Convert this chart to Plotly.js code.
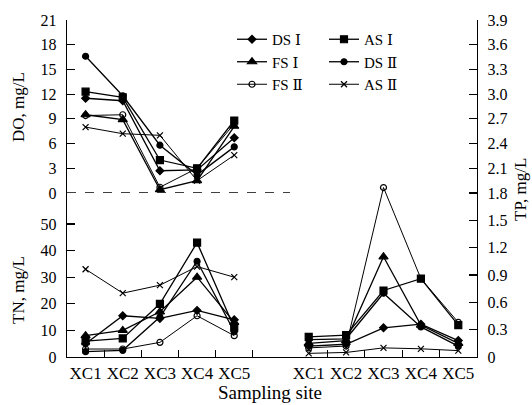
<!DOCTYPE html>
<html>
<head>
<meta charset="utf-8">
<script src="https://cdn.plot.ly/plotly-3.0.1.min.js"></script>
<style>html,body{margin:0;padding:0;background:#fff;}#chart{width:532px;height:405px;}</style>
</head>
<body>
<div id="chart"></div>
<script>
// ---- data ----
const sites = ['XC1', 'XC2', 'XC3', 'XC4', 'XC5'];
const seriesNames = ['DS Ⅰ', 'AS Ⅰ', 'FS Ⅰ', 'DS Ⅱ', 'FS Ⅱ', 'AS Ⅱ'];

// DO, mg/L (left, upper)
const doDS1 = [11.5, 11.2, 2.7, 2.8, 6.7];
const doAS1 = [12.3, 11.6, 4.0, 3.0, 8.8];
const doFS1 = [9.5, 8.9, 0.4, 1.5, 8.1];
const doDS2 = [16.6, 11.8, 5.8, 2.2, 5.6];
const doFS2 = [9.4, 9.5, 0.7, 3.0, 8.4];
const doAS2 = [8.0, 7.2, 7.0, 1.5, 4.6];

// TN, mg/L (left, lower)
const tnDS1 = [5, 15.5, 14.5, 17.5, 14];
const tnAS1 = [6, 7, 20, 43, 11];
const tnFS1 = [8, 10, 17, 30, 13];
const tnDS2 = [2, 2.5, 15, 36, 9.5];
const tnFS2 = [3, 3, 5.5, 15.5, 8];
const tnAS2 = [33, 24, 27, 34, 30];

// TP, mg/L (right)
const tpDS1 = [0.12, 0.14, 0.32, 0.36, 0.18];
const tpAS1 = [0.22, 0.24, 0.73, 0.86, 0.35];
const tpFS1 = [0.15, 0.18, 1.10, 0.35, 0.15];
const tpDS2 = [0.19, 0.20, 0.70, 0.33, 0.12];
const tpFS2 = [0.10, 0.12, 1.86, 0.86, 0.38];
const tpAS2 = [0.04, 0.05, 0.10, 0.09, 0.07];

const doTicks = [0, 3, 6, 9, 12, 15, 18, 21];
const tnTicks = [0, 10, 20, 30, 40, 50];
const tpLowTicks = [0, 0.3, 0.6, 0.9, 1.2, 1.5, 1.8];
const tpHighTicks = [2.1, 2.4, 2.7, 3.0, 3.3, 3.6, 3.9];
const tpLowText = ['0', '0.3', '0.6', '0.9', '1.2', '1.5', '1.8'];
const tpHighText = ['2.1', '2.4', '2.7', '3.0', '3.3', '3.6', '3.9'];

// ---- styles ----
const FONT = 'Liberation Serif, Times New Roman, DejaVu Serif, serif';
const styles = [
  {symbol: 'diamond', size: 6, width: 1.3, legend: 'legend'},
  {symbol: 'square', size: 7, width: 1.3, legend: 'legend2'},
  {symbol: 'triangle-up', size: 8, width: 1.3, legend: 'legend'},
  {symbol: 'circle', size: 6, width: 1.3, legend: 'legend2'},
  {symbol: 'circle-open', size: 6, width: 1.0, legend: 'legend'},
  {symbol: 'x-thin-open', size: 6, width: 1.0, legend: 'legend2'}
];
const doData = [doDS1, doAS1, doFS1, doDS2, doFS2, doAS2];
const tnData = [tnDS1, tnAS1, tnFS1, tnDS2, tnFS2, tnAS2];
const tpData = [tpDS1, tpAS1, tpFS1, tpDS2, tpFS2, tpAS2];

const traces = [];
function add(vals, i, xa, ya, show) {
  const s = styles[i];
  traces.push({
    type: 'scatter', mode: 'lines+markers',
    x: sites, y: vals, xaxis: xa, yaxis: ya,
    name: seriesNames[i], legendgroup: seriesNames[i], legend: s.legend,
    showlegend: show, cliponaxis: false,
    line: {color: '#000', width: s.width},
    marker: {symbol: s.symbol, size: s.size, color: '#000', line: {color: '#000', width: 1.2}}
  });
}
const order = [0, 2, 4, 1, 3, 5];
order.forEach(i => add(doData[i], i, 'x', 'y', true));
order.forEach(i => add(tnData[i], i, 'x', 'y2', false));
order.forEach(i => add(tpData[i], i, 'x2', 'y3', false));
// empty trace so the upper TP axis (y4) gets drawn
traces.push({type: 'scatter', x: [], y: [], xaxis: 'x2', yaxis: 'y4', showlegend: false, hoverinfo: 'skip'});

// pixel helpers for paper coords (plot area 67..477 x, 20..357 y)
const px = v => (v - 67) / 410;
const py = v => (357 - v) / 337;
const split = py(193);

const tickFont = {family: FONT, size: 16, color: '#000'};
const baseY = {
  showline: true, linecolor: '#000', linewidth: 1.2, showgrid: false, zeroline: false,
  ticks: 'inside', ticklen: 8, tickcolor: '#000', tickwidth: 1.2,
  tickfont: tickFont, tickmode: 'array', ticklabelstandoff: 6
};
const baseX = {
  type: 'category', showline: true, linecolor: '#000', linewidth: 1.2, showgrid: false,
  zeroline: false, ticks: 'inside', tickson: 'boundaries', ticklen: 7, tickcolor: '#000',
  tickwidth: 1.2, tickangle: 0, tickfont: {family: FONT, size: 17, color: '#000'}, fixedrange: true
};

const legendBase = {xanchor: 'left', yanchor: 'top', bgcolor: 'rgba(0,0,0,0)',
  font: {family: FONT, size: 15, color: '#000'}, tracegroupgap: 0, itemwidth: 30};

const titleFont = {family: FONT, size: 17, color: '#000'};
const layout = {
  width: 532, height: 405,
  margin: {l: 67, r: 55, t: 20, b: 48},
  paper_bgcolor: '#fff', plot_bgcolor: 'rgba(0,0,0,0)',
  font: {family: FONT, color: '#000'},
  xaxis: Object.assign({}, baseX, {domain: [0, px(290)], range: [-0.5, 5.5], anchor: 'y2'}),
  xaxis2: Object.assign({}, baseX, {domain: [px(290), 1], range: [-0.5, 4.5], anchor: 'y3'}),
  yaxis: Object.assign({}, baseY, {domain: [split, 1], range: [0, 21], tickvals: doTicks, anchor: 'x'}),
  yaxis2: Object.assign({}, baseY, {domain: [0, split], range: [0, 50 * 164 / 133], tickvals: tnTicks, anchor: 'x'}),
  yaxis3: Object.assign({}, baseY, {domain: [0, 0.53], range: [0, 1.8 * 0.53 / split], tickvals: tpLowTicks, ticktext: tpLowText, anchor: 'x2', side: 'right'}),
  yaxis4: Object.assign({}, baseY, {domain: [split, 1], range: [1.8, 3.9], tickvals: tpHighTicks, ticktext: tpHighText, anchor: 'x2', side: 'right'}),
  legend: Object.assign({}, legendBase, {x: px(232), y: py(23)}),
  legend2: Object.assign({}, legendBase, {x: px(324), y: py(23)}),
  shapes: [
    {type: 'line', xref: 'x domain', x0: 0, x1: 1, yref: 'y', y0: 0, y1: 0,
     line: {color: '#000', width: 1.5, dash: 'dash'}}
  ],
  annotations: [
    {text: 'DO, mg/L', xref: 'paper', yref: 'paper', x: px(18), y: py(107), xanchor: 'center', yanchor: 'middle',
     textangle: -90, showarrow: false, font: titleFont},
    {text: 'TN, mg/L', xref: 'paper', yref: 'paper', x: px(18), y: py(290), xanchor: 'center', yanchor: 'middle',
     textangle: -90, showarrow: false, font: titleFont},
    {text: 'TP, mg/L', xref: 'paper', yref: 'paper', x: px(520), y: py(190), xanchor: 'center', yanchor: 'middle',
     textangle: -90, showarrow: false, font: titleFont},
    {text: 'Sampling site', xref: 'paper', yref: 'paper', x: px(270), y: py(393), xanchor: 'center', yanchor: 'middle',
     showarrow: false, font: {family: FONT, size: 19, color: '#000'}}
  ]
};

Plotly.newPlot('chart', traces, layout, {staticPlot: true, displayModeBar: false});
</script>
</body>
</html>
